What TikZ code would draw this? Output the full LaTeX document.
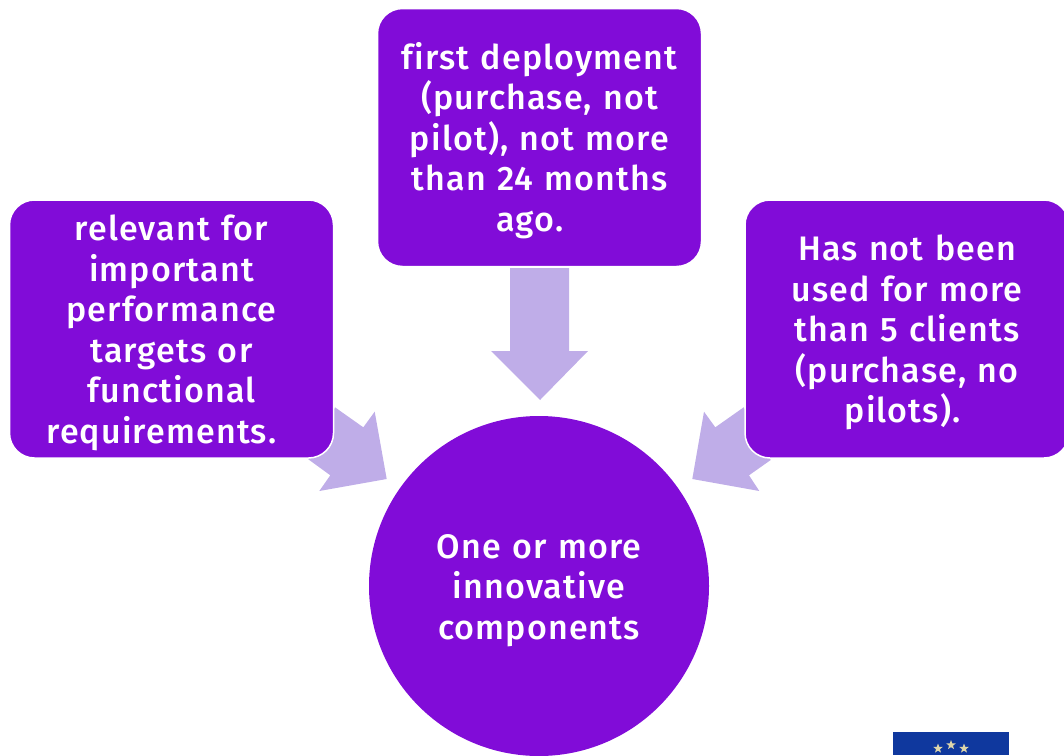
\documentclass[tikz,border=0pt]{standalone}
\usepackage{fontspec}
\setmainfont{Fira Sans Medium}[LetterSpace=3.4,Ligatures=NoCommon]
\usepackage{color}
\usetikzlibrary{shapes.geometric}
\definecolor{mypurple}{RGB}{129, 12, 216}
\definecolor{mylilac}{RGB}{191, 173, 232}
\definecolor{myblue}{RGB}{15, 56, 158}
\definecolor{mystar}{RGB}{222, 214, 170}
\tikzset{>=latex}
\tikzset{
  blocktext/.style = {text = white, align = center, text width = 310, inner sep = 0, font = \fontsize{34}{40.5}\selectfont, execute at begin node = {\rule{0pt}{33pt}}},
  block/.style = {blocktext, fill = mypurple, draw = white, line width = 1.5pt, rounded corners = 25, minimum width = 324, minimum height = 258},
  blockarrow/.style = {fill = mylilac, draw = none},
  flagstar/.style = {star, star points = 5, star point ratio = 2.4, fill = mystar, minimum size = 10, inner sep = 0}
}

\begin{document}
\begin{tikzpicture}[x = 1pt, y = -1pt]

\useasboundingbox (0,0) rectangle (1064,755);
\clip (0,0) rectangle (1064,755);

\fill[blockarrow] (510,268) -- (569,268) -- (569,351) -- (588,351) -- (540,400) -- (491,351) -- (510,351) -- cycle;
\fill[blockarrow] (335,407.3) -- (363.3,427.3) -- (374.7,411.7) -- (386.7,479) -- (319.3,491) -- (330.3,475.3) -- (308.3,459.3) -- cycle;
\fill[blockarrow] (743.7,407.3) -- (715.3,427.3) -- (704,411.7) -- (692.3,479) -- (759.3,491) -- (749,475.3) -- (770.7,460) -- cycle;

\node[block] (first) at (539.5,137.5) {first deployment\\(purchase, not\\pilot), not more\\than 24 months\\ago.\hspace*{19pt}};
\node[block] (relevant) at (171.5,329) {relevant for\\important\\performance\\targets or\\functional\\requirements.\hspace*{20pt}};
\node[block] (clients) at (907,329) {Has not been\\used for more\\than 5 clients\\(purchase, no\\pilots).\hspace*{9pt}};
\node[blocktext, circle, fill = mypurple, minimum size = 340] (components) at (539,586) {One or more\\innovative\\components};

\fill[myblue] (893,732) rectangle (1009,755);
\node[flagstar] (star1) at (938,748.5) {};
\node[flagstar] (star2) at (951,745) {};
\node[flagstar] (star3) at (964,748.5) {};

\end{tikzpicture}
\end{document}
